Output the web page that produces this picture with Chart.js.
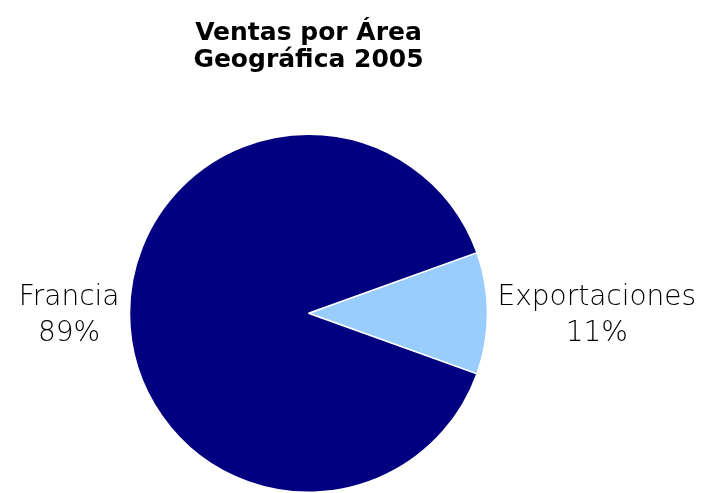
<!DOCTYPE html>
<html>
<head>
<meta charset="utf-8">
<script src="https://cdn.jsdelivr.net/npm/chart.js@4"></script>
<style>
html,body{margin:0;padding:0;background:#fff;}
#wrap{width:704px;height:493px;position:relative;}
</style>
</head>
<body>
<div id="wrap"><canvas id="c" width="704" height="493"></canvas></div>
<script>
const titleLines = ['Ventas por Área', 'Geográfica 2005'];
const categories = ['Exportaciones', 'Francia'];
const values = [11, 89];
const percentLabels = ['11%', '89%'];
const colors = ['#99CCFF', '#000080'];

const labelFont = '200 28px "DejaVu Sans"';

const sideLabels = {
  id: 'sideLabels',
  afterDatasetsDraw(chart) {
    const ctx = chart.ctx;
    const meta = chart.getDatasetMeta(0);
    ctx.save();
    ctx.font = labelFont;
    ctx.fillStyle = '#000';
    ctx.textBaseline = 'middle';
    ctx.textAlign = 'center';
    meta.data.forEach((arc, i) => {
      const p = arc.getProps(['x','y','startAngle','endAngle','outerRadius'], true);
      const mid = (p.startAngle + p.endAngle) / 2;
      const lines = [categories[i], percentLabels[i]];
      const w = Math.max(...lines.map(l => ctx.measureText(l).width));
      const gap = 10;
      const right = Math.cos(mid) >= 0;
      const cx = right ? p.x + p.outerRadius + gap + w / 2 : p.x - p.outerRadius - gap - w / 2;
      const lh = 36;
      const cy = p.y + 2;
      lines.forEach((l, k) => {
        ctx.fillText(l, cx, cy + (k - 0.5) * lh);
      });
    });
    ctx.restore();
  }
};

new Chart(document.getElementById('c'), {
  type: 'pie',
  data: {
    labels: categories,
    datasets: [{
      data: values,
      backgroundColor: colors,
      borderColor: '#ffffff',
      borderWidth: 1.5
    }]
  },
  options: {
    responsive: false,
    animation: false,
    rotation: 90 - 0.5 * values[0] / (values[0] + values[1]) * 360,
    layout: { padding: { left: 128.5, right: 215.5, top: 0, bottom: -0.5 } },
    plugins: {
      legend: { display: false },
      tooltip: { enabled: false },
      title: {
        display: true,
        text: titleLines,
        color: '#000',
        font: { family: '"DejaVu Sans"', size: 25, weight: 'bold', lineHeight: 1.08 },
        padding: { top: 20, bottom: 59.5 }
      }
    }
  },
  plugins: [sideLabels]
});
</script>
</body>
</html>
